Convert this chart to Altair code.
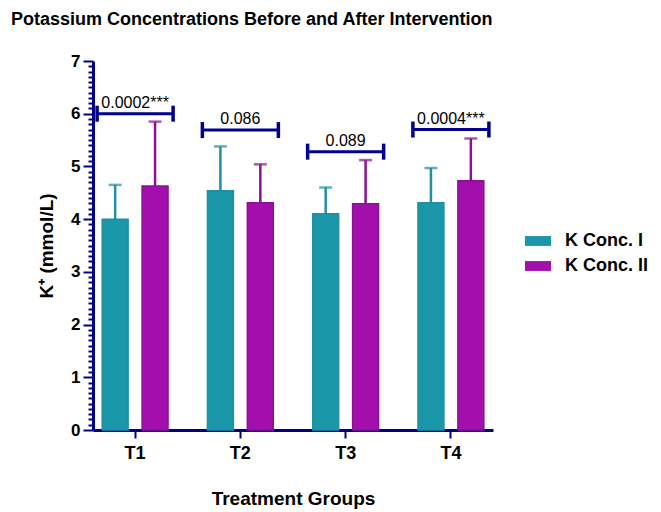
import altair as alt
import numpy as np
import pandas as pd

groups = ["T1", "T2", "T3", "T4"]
series = ["K Conc. I", "K Conc. II"]
conc_I = [4.00, 4.54, 4.10, 4.31]
conc_II = [4.63, 4.31, 4.29, 4.73]
sd_I = [0.65, 0.84, 0.50, 0.66]
sd_II = [1.22, 0.73, 0.83, 0.80]
p_labels = ["0.0002***", "0.086", "0.089", "0.0004***"]
bracket_y = [6.00, 5.69, 5.28, 5.70]

fill_colors = ["#1a97a9", "#a30fac"]
line_colors = ["#1f8ea6", "#8c1093"]
NAVY = "#00008b"
FONT = "Liberation Sans"

rows = []
for i, g in enumerate(groups):
    rows.append({"group": g, "series": series[0], "mean": conc_I[i], "upper": conc_I[i] + sd_I[i]})
    rows.append({"group": g, "series": series[1], "mean": conc_II[i], "upper": conc_II[i] + sd_II[i]})
df = pd.DataFrame(rows)
br = pd.DataFrame({"group": groups, "y": bracket_y, "label": p_labels})

yticks = [float(v) for v in np.round(np.arange(0, 7.001, 0.1), 1)]
IS_INT = "abs(datum.value - round(datum.value)) < 0.001"

xscale = alt.Scale(domain=groups, paddingInner=0.2, paddingOuter=0.0)
xoff = alt.XOffset("series:N", scale=alt.Scale(domain=series, paddingInner=0.35, paddingOuter=0.23))
yscale = alt.Scale(domain=[0, 7], nice=False)

xaxis = alt.Axis(title="Treatment Groups", labelAngle=0, tickSize=8, labelFontSize=18,
                 labelPadding=6, titlePadding=27)
yaxis = alt.Axis(title="K⁺ (mmol/L)", values=yticks,
                 labelExpr=IS_INT + " ? format(datum.value, 'd') : ''",
                 labelOverlap=False, labelBound=False, labelFontSize=17,
                 tickSize={"condition": {"test": IS_INT, "value": 10}, "value": 5},
                 labelPadding=3, titlePadding=14)

xn = alt.X("group:N", scale=xscale, sort=groups, axis=xaxis)


def yn(field):
    return alt.Y(field, scale=yscale, axis=yaxis)


bars = alt.Chart(df).mark_bar(strokeWidth=1.5).encode(
    x=xn,
    xOffset=xoff,
    y=yn("mean:Q"),
    fill=alt.Fill("series:N", scale=alt.Scale(domain=series, range=fill_colors),
                  legend=alt.Legend(title=None, orient="none", legendX=432, legendY=167,
                                    symbolType="M-1,-0.38H1V0.38H-1Z", symbolSize=676,
                                    symbolStrokeWidth=0, labelFontSize=18, labelFontWeight="bold",
                                    labelFont=FONT, labelColor="black", labelOffset=14, rowPadding=3)),
    stroke=alt.Stroke("series:N", scale=alt.Scale(domain=series, range=line_colors), legend=None),
)

err = alt.Chart(df).mark_rule(strokeWidth=2.5).encode(
    x=xn, xOffset=xoff, y=yn("mean:Q"), y2="upper:Q",
    color=alt.Color("series:N", scale=alt.Scale(domain=series, range=line_colors), legend=None),
)
caps = alt.Chart(df).mark_tick(orient="horizontal", size=13, thickness=2.5).encode(
    x=xn, xOffset=xoff, y=yn("upper:Q"),
    color=alt.Color("series:N", scale=alt.Scale(domain=series, range=line_colors), legend=None),
)

hline = alt.Chart(br).mark_tick(orient="horizontal", size=76, thickness=3, color=NAVY, opacity=1).encode(
    x=xn, y=yn("y:Q"),
)
lcap = alt.Chart(br).mark_tick(orient="vertical", size=16, thickness=3.5, color=NAVY, opacity=1, xOffset=-38).encode(
    x=xn, y=yn("y:Q"),
)
rcap = alt.Chart(br).mark_tick(orient="vertical", size=16, thickness=3.5, color=NAVY, opacity=1, xOffset=38).encode(
    x=xn, y=yn("y:Q"),
)
ptext = alt.Chart(br).mark_text(baseline="bottom", dy=-3, fontSize=16, font=FONT, color="black").encode(
    x=xn, y=yn("y:Q"), text="label:N",
)

chart = alt.layer(bars, err, caps, hline, lcap, rcap, ptext).properties(
    width=400, height=369,
    autosize=alt.AutoSizeParams(type="none"),
    padding={"left": 85, "top": 53, "right": 160, "bottom": 95},
    title=alt.TitleParams("Potassium Concentrations Before and After Intervention",
                          anchor="start", frame="group", dx=-82, offset=23,
                          fontSize=18, fontWeight="bold", font=FONT, color="black"),
).configure_axis(
    domainColor=NAVY, domainWidth=3, tickColor=NAVY, tickWidth=2,
    labelFont=FONT, labelFontWeight="bold", labelColor="black",
    titleFont=FONT, titleFontSize=19, titleFontWeight="bold", titleColor="black",
    grid=False,
).configure_axisY(labelOverlap=False).configure_view(stroke=None)

chart.save("out.html", embed_options={"renderer": "svg", "actions": False})
